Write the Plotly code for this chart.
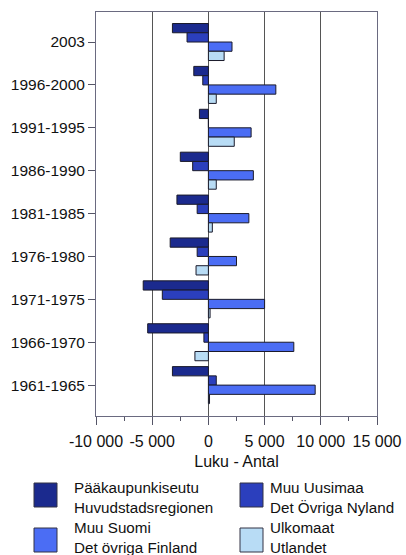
import plotly.graph_objects as go

categories = ["2003", "1996-2000", "1991-1995", "1986-1990", "1981-1985",
              "1976-1980", "1971-1975", "1966-1970", "1961-1965"]
paakaupunkiseutu = [-3200, -1300, -800, -2500, -2800, -3400, -5800, -5400, -3200]
muu_uusimaa = [-1900, -500, 0, -1400, -1000, -1000, -4100, -400, 700]
muu_suomi = [2100, 6000, 3800, 4000, 3600, 2500, 5000, 7600, 9500]
ulkomaat = [1400, 700, 2300, 700, 350, -1100, 150, -1200, 100]

series_names = [
    ("Pääkaupunkiseutu", "Huvudstadsregionen"),
    ("Muu Uusimaa", "Det Övriga Nyland"),
    ("Muu Suomi", "Det övriga Finland"),
    ("Ulkomaat", "Utlandet"),
]
series_values = [paakaupunkiseutu, muu_uusimaa, muu_suomi, ulkomaat]
colors = ["#1b2a8e", "#2b3fbd", "#4b6df4", "#b8dcf5"]

x_tickvals = [-10000, -5000, 0, 5000, 10000, 15000]
x_ticktext = ["-10 000", "-5 000", "0", "5 000", "10 000", "15 000"]

fig = go.Figure()
for (n1, n2), vals, col in zip(series_names, series_values, colors):
    fig.add_trace(go.Bar(
        y=categories, x=vals, orientation="h", name=n1 + " / " + n2,
        marker=dict(color=col, line=dict(color="#1a1a2a", width=1)),
        showlegend=False,
    ))

W, H = 406, 555
L, R, T, B = 96, 377, 12, 416


def px(x):
    return (x - L) / (R - L)


def py(y):
    return (B - y) / (B - T)


font = "Liberation Sans, Arial, sans-serif"
shapes = []
annotations = []
legend_pos = [(34, 483, 73), (240, 483, 269), (34, 528, 73), (240, 528, 269)]
text_center_y = [497.5, 497.5, 537.5, 537.5]
for (n1, n2), col, (sx, sy, tx), yy in zip(series_names, colors, legend_pos, text_center_y):
    shapes.append(dict(type="rect", xref="paper", yref="paper",
                       x0=px(sx), x1=px(sx + 23), y0=py(sy), y1=py(sy + 24),
                       fillcolor=col, line=dict(color="#333344", width=1)))
    annotations.append(dict(text=n1 + "<br>" + n2, xref="paper", yref="paper",
                            x=px(tx), y=py(yy), xanchor="left", yanchor="middle",
                            align="left", showarrow=False, borderpad=0,
                            font=dict(size=15.2, color="#111111", family=font)))

fig.update_layout(
    width=W, height=H,
    margin=dict(l=L, r=W - R, t=T, b=H - B, autoexpand=False),
    paper_bgcolor="white", plot_bgcolor="white",
    barmode="group", bargap=0.137, bargroupgap=0,
    font=dict(family=font, size=16, color="#111111"),
    shapes=shapes, annotations=annotations,
    xaxis=dict(
        range=[-10000, 15000], tickvals=x_tickvals, ticktext=x_ticktext,
        automargin=False,
        showgrid=True, gridcolor="#555555", gridwidth=1,
        zeroline=True, zerolinecolor="#555555", zerolinewidth=1,
        showline=True, linecolor="#6a6a80", linewidth=1, mirror=True,
        ticks="outside", ticklen=8, tickcolor="#555566",
        minor=dict(dtick=2500, ticks="outside", ticklen=4, tickcolor="#555566", showgrid=False),
        tickfont=dict(size=16), ticklabelstandoff=3,
        title=dict(text="Luku - Antal", font=dict(size=16), standoff=6),
    ),
    yaxis=dict(
        type="category", range=[8.72, -0.70], automargin=False,
        showgrid=False, showline=True, linecolor="#6a6a80", linewidth=1, mirror=True,
        ticks="outside", ticklen=7, tickcolor="#555566",
        tickfont=dict(size=15.5),
    ),
)

fig.write_html("out.html", config={"displayModeBar": False},
               post_script="document.body.style.margin='0';document.body.style.padding='0';")
